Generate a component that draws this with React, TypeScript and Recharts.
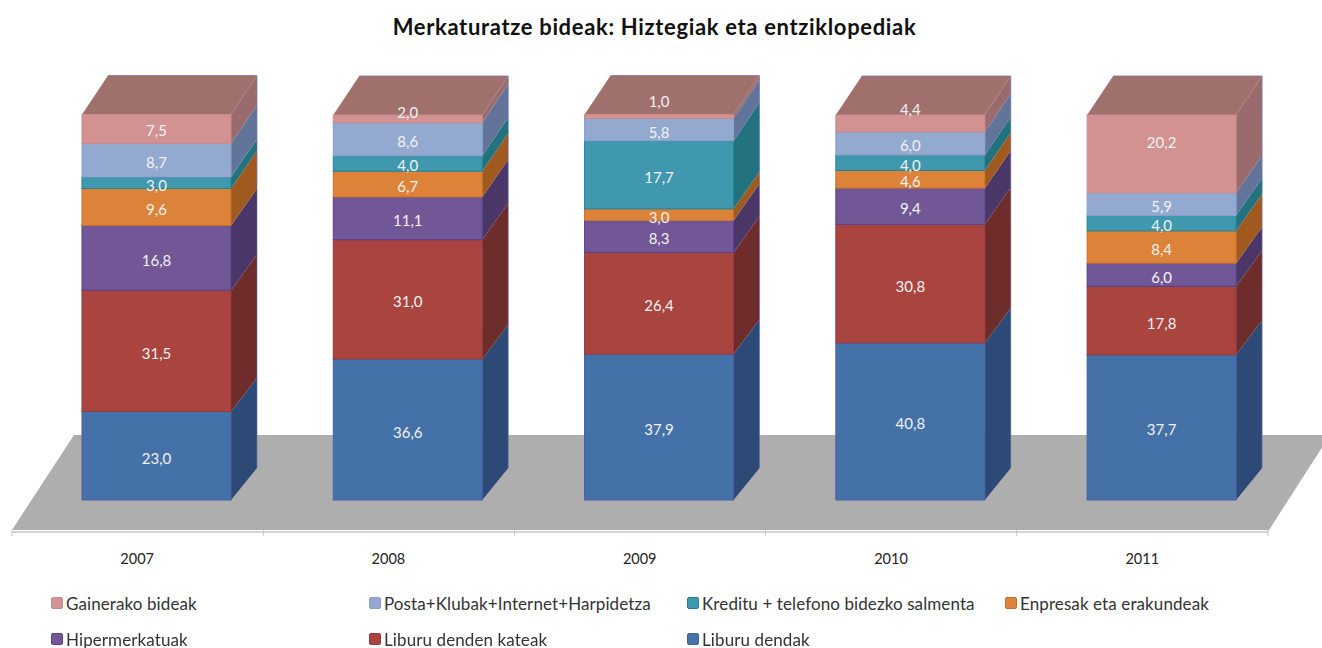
import { Bar, BarChart, LabelList, Legend, XAxis, YAxis } from "recharts";

const years = ["2007", "2008", "2009", "2010", "2011"];
const liburuDendak = [23.0, 36.6, 37.9, 40.8, 37.7];
const dendenKateak = [31.5, 31.0, 26.4, 30.8, 17.8];
const hipermerkatuak = [16.8, 11.1, 8.3, 9.4, 6.0];
const enpresak = [9.6, 6.7, 3.0, 4.6, 8.4];
const kreditu = [3.0, 4.0, 17.7, 4.0, 4.0];
const posta = [8.7, 8.6, 5.8, 6.0, 5.9];
const gainerako = [7.5, 2.0, 1.0, 4.4, 20.2];

const series = [
  { key: "liburu", name: "Liburu dendak", values: liburuDendak, fill: "#4571a9", side: "#2c4a75", edge: "#4a5fa3" },
  { key: "kateak", name: "Liburu denden kateak", values: dendenKateak, fill: "#a9443f", side: "#6e2c2a", edge: "#8f3a44" },
  { key: "hiper", name: "Hipermerkatuak", values: hipermerkatuak, fill: "#725796", side: "#4a3768", edge: "#55408c" },
  { key: "enpresak", name: "Enpresak eta erakundeak", values: enpresak, fill: "#dc8339", side: "#a0591f", edge: "#c8702c" },
  { key: "kreditu", name: "Kreditu + telefono bidezko salmenta", values: kreditu, fill: "#3f98ae", side: "#22737e", edge: "#1f8595" },
  { key: "posta", name: "Posta+Klubak+Internet+Harpidetza", values: posta, fill: "#93a9d0", side: "#62749a", edge: "#8a9fcb" },
  { key: "gainerako", name: "Gainerako bideak", values: gainerako, fill: "#d19291", side: "#9a6b6c", edge: "#c98a8c" },
];

const data = years.map((year, i) => {
  const row: Record<string, string | number> = { year };
  series.forEach((s) => (row[s.key] = s.values[i]));
  return row;
});

const FONT = "Lato, sans-serif";
const BASE_Y = 500;
const BAR_SPAN = 385;
const DEPTH_X = 26;

// the box leans back a bit more higher up, Excel perspective
const depthY = (y: number) => 32 + (7 * (BASE_Y - y)) / BAR_SPAN;

function Box({ x, y, width, height, fill, side, edge, top }: any) {
  const r = x + width;
  const b = y + height;
  const backTop = y - depthY(y);
  const backBottom = b - depthY(b);
  const rightFace = `${r},${y} ${r + DEPTH_X},${backTop} ${r + DEPTH_X},${backBottom} ${r},${b}`;
  const topFace = `${x},${y} ${x + DEPTH_X},${backTop} ${r + DEPTH_X},${backTop} ${r},${y}`;
  return (
    <g>
      <polygon points={rightFace} fill={side} />
      <line x1={r + DEPTH_X} x2={r + DEPTH_X} y1={backTop} y2={backBottom} stroke="#6f6fb0" strokeOpacity={0.6} />
      {top && <polygon points={topFace} fill="#a0706d" />}
      {top && <line x1={x + DEPTH_X} x2={r + DEPTH_X} y1={backTop} y2={backTop} stroke="#6f6fb0" strokeOpacity={0.7} />}
      <rect x={x} y={y} width={width} height={height} fill={fill} stroke={edge} strokeWidth={1} />
    </g>
  );
}

// hand-placed shifts on the top series labels, as in the original chart
const topLabelShift = [2, -6, -15, -13, -11];

function segmentLabel(shift: (i: number) => number) {
  return ({ x, y, width, height, value, index }: any) => (
    <text
      x={x + width / 2}
      y={y + height / 2 + shift(index) + 5}
      textAnchor="middle"
      fontFamily={FONT}
      fontSize={15}
      fill="#f2f2f2"
    >
      {Number(value).toFixed(1).replace(".", ",")}
    </text>
  );
}

const legendCols = [51, 369, 687, 1005];
const legendRowHeight = 36;

function LegendBlock() {
  const items = [...series].reverse();
  return (
    <div style={{ position: "relative", height: 55, fontFamily: FONT, fontSize: 17, letterSpacing: 0.1, color: "#333" }}>
      {items.map((s, i) => (
        <div
          key={s.key}
          style={{
            position: "absolute",
            left: legendCols[i % 4],
            top: Math.floor(i / 4) * legendRowHeight,
            display: "flex",
            alignItems: "center",
            whiteSpace: "nowrap",
            height: 20,
          }}
        >
          <span
            style={{
              width: 12,
              height: 12,
              marginRight: 3,
              background: s.fill,
              border: `1px solid ${s.edge}`,
              borderRadius: 2,
              boxSizing: "border-box",
            }}
          />
          {s.name}
        </div>
      ))}
    </div>
  );
}

const axisLeft = 12;
const axisStep = 251.2;

export default function App() {
  return (
    <div style={{ position: "absolute", left: 0, top: 0, width: 1322, height: 648, background: "#fff", filter: "blur(0.4px)" }}>
      <div
        style={{
          position: "absolute",
          top: 13,
          width: 1309,
          textAlign: "center",
          fontFamily: FONT,
          fontWeight: 700,
          fontSize: 22,
          letterSpacing: 0.66,
          color: "#111",
          zIndex: 2,
        }}
      >
        Merkaturatze bideak: Hiztegiak eta entziklopediak
      </div>
      <BarChart
        width={1322}
        height={648}
        data={data}
        barSize={149}
        margin={{ top: 114.6, right: 34.6, bottom: 28, left: 31 }}
      >
        <polygon points="12,530 1269,530 1330,435 74,435" fill="#aeaeae" />
        <line x1={12} x2={1269} y1={532} y2={532} stroke="#d4d4d4" strokeWidth={2} />
        {years.concat("end").map((y, i) => (
          <line
            key={y}
            x1={axisLeft + i * axisStep}
            x2={axisLeft + i * axisStep}
            y1={530}
            y2={536}
            stroke="#c4c4c4"
          />
        ))}
        <XAxis
          dataKey="year"
          height={60}
          axisLine={false}
          tickLine={false}
          tickMargin={48}
          tick={{ fontSize: 14.5, fill: "#222", fontFamily: FONT, dx: -19.5 }}
        />
        <YAxis hide domain={[0, 100.1]} />
        {series.map((s, i) => {
          const isTop = i === series.length - 1;
          return (
            <Bar
              key={s.key}
              dataKey={s.key}
              name={s.name}
              stackId="total"
              fill={s.fill}
              isAnimationActive={false}
              shape={(p: any) => <Box {...p} side={s.side} edge={s.edge} top={isTop} />}
            >
              <LabelList
                dataKey={s.key}
                content={segmentLabel((idx) => (isTop ? topLabelShift[idx] : 3))}
              />
            </Bar>
          );
        })}
        <Legend
          height={60}
          content={() => <LegendBlock />}
          wrapperStyle={{ left: 0, top: 593, bottom: "auto", width: 1322 }}
        />
      </BarChart>
    </div>
  );
}
